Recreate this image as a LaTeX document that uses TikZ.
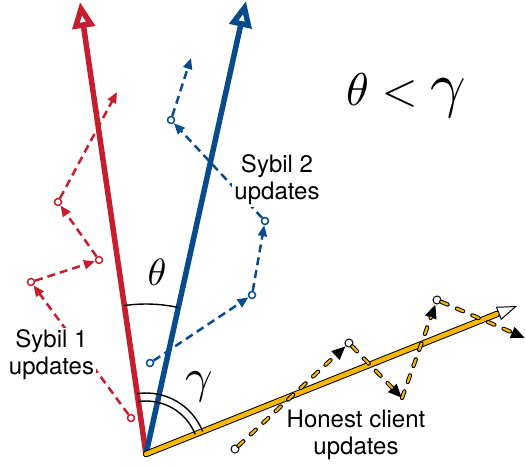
\documentclass[tikz,border=0pt]{standalone}
\usepackage{fontspec}
\setsansfont{TeX Gyre Heros}
\usetikzlibrary{arrows.meta}
\definecolor{sred}{RGB}{198,30,46}
\definecolor{sblue}{RGB}{8,76,142}
\definecolor{hyel}{RGB}{248,184,0}
\begin{document}
\begin{tikzpicture}[x=1pt,y=-1pt,
  mainred/.style={sred, line width=5.5pt, -{Triangle[open,length=26pt,width=22pt]}},
  mainblue/.style={sblue, line width=5.5pt, -{Triangle[open,length=26pt,width=22pt]}},
  sonedash/.style={sred, line width=2.5pt, dash pattern=on 8pt off 5pt, -{Triangle[length=11pt,width=9pt]}},
  stwodash/.style={sblue, line width=2.5pt, dash pattern=on 8pt off 5pt, -{Triangle[length=11pt,width=9pt]}},
  hdash/.style={draw=black, line width=4.2pt, line cap=round, dash pattern=on 7pt off 10pt,
     -{Triangle[length=14pt,width=11pt]},
     postaction={draw=hyel, line width=2.2pt, -, shorten >=14pt}},
  sonept/.style={circle, draw=sred, fill=white, line width=1.5pt, minimum size=7pt, inner sep=0pt},
  stwopt/.style={circle, draw=sblue, fill=white, line width=1.5pt, minimum size=7pt, inner sep=0pt},
  hpt/.style={circle, draw=black, fill=white, line width=1pt, minimum size=8pt, inner sep=0pt},
  lbl/.style={font=\sffamily\fontsize{24}{27}\selectfont, align=center, inner sep=2pt},
  anglearc/.style={black, line width=1.4pt}
]
\useasboundingbox (0,0) rectangle (526,466);

\coordinate (O) at (146,454);
\coordinate (R) at (80,2);
\coordinate (B) at (246,1);
\coordinate (Y) at (517,306);

% main vectors
\draw[mainred] (O) -- (R);
\draw[mainblue] (O) -- (B);
\draw[black, line width=6.5pt, line cap=round,
  -{Triangle[fill=white, line width=1pt, length=20pt, width=14pt]}] (O) -- (Y);
\draw[hyel, line width=4.5pt, line cap=round, shorten >=22pt] (O) -- (Y);

% Sybil 1 points
\node[sonept] (r1) at (131,418) {};
\node[sonept] (r2) at (31,282) {};
\node[sonept] (r3) at (99,260) {};
\node[sonept] (r4) at (58,202) {};
\coordinate (r5) at (117,92);
\draw[sonedash] (r1) -- (r2);
\draw[sonedash] (r2) -- (r3);
\draw[sonedash] (r3) -- (r4);
\draw[sonedash] (r4) -- (r5);

% Sybil 2 points
\node[stwopt] (b1) at (150,363) {};
\node[stwopt] (b2) at (252,295) {};
\node[stwopt] (b3) at (265,221) {};
\node[stwopt] (b4) at (171,120) {};
\coordinate (b5) at (191,58);
\draw[stwodash] (b1) -- (b2);
\draw[stwodash] (b2) -- (b3);
\draw[stwodash] (b3) -- (b4);
\draw[stwodash] (b4) -- (b5);

% Honest points
\node[hpt] (h1) at (235,449) {};
\node[hpt] (h2) at (349,343) {};
\coordinate (h3) at (402,398);
\node[hpt] (h4) at (437,300) {};
\coordinate (h5) at (525,338);
\draw[hdash] (h1) -- (h2);
\draw[hdash] (h2) -- (h3);
\draw[hdash] (h3) -- (h4);
\draw[hdash] (h4) -- (h5);

% angle arcs
\draw[anglearc] ([shift={(-98.31:150)}]O) arc[start angle=-98.31, end angle=-77.55, radius=150];
\draw[anglearc] ([shift={(-98.31:61)}]O) arc[start angle=-98.31, end angle=-21.75, radius=61];
\draw[anglearc] ([shift={(-98.31:53)}]O) arc[start angle=-98.31, end angle=-21.75, radius=53];

% labels
\node[lbl, fill=white, anchor=north] (l1) at (51.5,327.5) {Sybil 1\\updates};
\node[lbl, fill=white, anchor=north] (l2) at (277,152.8) {Sybil 2\\updates};
\node[lbl, anchor=north] (l3) at (356,407.5) {Honest client\\updates};

\node[anchor=base, inner sep=0pt] (th) at (157,285) {\scalebox{3.8}{$\theta$}};
\node[anchor=base, inner sep=0pt] (ga) at (199,392) {\scalebox{4.8}{$\gamma$}};
\node[anchor=base west, inner sep=0pt] (ineq) at (346,105) {\scalebox{4.6}{$\theta<\scalebox{1.35}{$\gamma$}$}};
\end{tikzpicture}
\end{document}
